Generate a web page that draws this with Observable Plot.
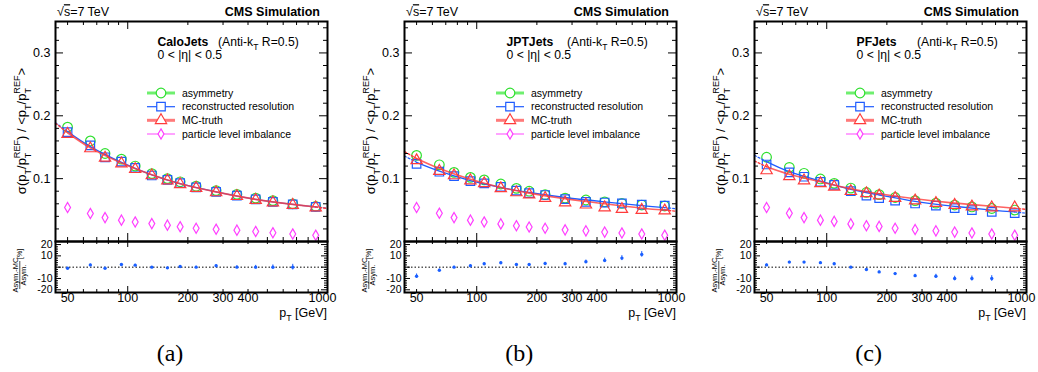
<!DOCTYPE html>
<html><head><meta charset="utf-8">
<script src="https://cdn.jsdelivr.net/npm/d3@7"></script>
<script src="https://cdn.jsdelivr.net/npm/@observablehq/plot@0.6"></script>
<style>
body{margin:0;background:#fff;}
#root{position:relative;width:1038px;height:372px;overflow:hidden;font-family:"Liberation Sans",Arial,sans-serif;}
.cap{position:absolute;font-family:"Liberation Serif","DejaVu Serif",serif;font-size:24px;transform:translate(-50%,-50%);white-space:nowrap;}
</style></head><body><div id="root"></div>
<script>
// ---------- data ----------
const pt = [50, 65, 77, 93, 109, 132, 158, 183, 220, 277, 352, 437, 533, 670, 873];
const fitX = [43.5, 50, 65, 93, 132, 183, 277, 437, 670, 873, 1000];

const panelNames = ["CaloJets", "JPTJets", "PFJets"];
const captions = ["(a)", "(b)", "(c)"];

const asymA = [0.182, 0.160, 0.140, 0.131, 0.120, 0.108, 0.100, 0.095, 0.088, 0.081, 0.075, 0.069, 0.065, 0.060, 0.056];
const recoA = [0.174, 0.153, 0.134, 0.127, 0.117, 0.105, 0.098, 0.093, 0.086, 0.079, 0.073, 0.067, 0.063, 0.059, 0.055];
const mcA   = [0.171, 0.148, 0.133, 0.124, 0.115, 0.105, 0.097, 0.091, 0.085, 0.078, 0.072, 0.066, 0.062, 0.058, 0.054];
const pliA  = [0.054, 0.0445, 0.038, 0.034, 0.031, 0.0285, 0.026, 0.0235, 0.021, 0.0195, 0.018, 0.016, 0.014, 0.012, 0.010];
const fitBlueA = [0.189, 0.175, 0.151, 0.126, 0.106, 0.092, 0.079, 0.067, 0.059, 0.055, 0.053];
const fitRedA  = [0.188, 0.173, 0.149, 0.125, 0.106, 0.092, 0.079, 0.067, 0.059, 0.055, 0.0525];
const ratioA = [-1, 2, -1, 2.4, 1.8, 0, -0.6, 0.6, 0, 1.2, 0, 0, 0, 0];
const errA   = [0.8, 0.7, 0.6, 0.7, 0.7, 0.6, 0.6, 0.7, 0.8, 1.0, 1.3, 1.6, 2.0, 2.5];

const asymB = [0.137, 0.122, 0.110, 0.102, 0.098, 0.0915, 0.0845, 0.080, 0.0745, 0.069, 0.066, 0.063, 0.0605, 0.058, 0.0565];
const recoB = [0.1235, 0.111, 0.104, 0.096, 0.0925, 0.087, 0.081, 0.077, 0.074, 0.0675, 0.063, 0.062, 0.0605, 0.0585, 0.057];
const mcB   = [0.129, 0.112, 0.105, 0.097, 0.0925, 0.0845, 0.078, 0.0745, 0.069, 0.062, 0.0585, 0.054, 0.0515, 0.050, 0.049];
const pliB  = [0.054, 0.045, 0.038, 0.034, 0.031, 0.028, 0.025, 0.023, 0.021, 0.0185, 0.017, 0.015, 0.0135, 0.012, 0.010];
const fitBlueB = [0.136, 0.126, 0.112, 0.097, 0.086, 0.078, 0.070, 0.063, 0.057, 0.054, 0.052];
const fitRedB  = [0.143, 0.132, 0.116, 0.099, 0.086, 0.077, 0.068, 0.060, 0.053, 0.050, 0.048];
const ratioB = [-8, -2.7, 0, 1.2, 3, 3.9, 2.4, 2.4, 3.3, 3, 4.8, 6, 8, 11.3];
const errB   = [2, 1, 0.8, 0.8, 0.8, 0.8, 0.8, 0.8, 1, 1.2, 1.5, 2, 2.2, 2.5];

const asymC = [0.134, 0.118, 0.1085, 0.0995, 0.0925, 0.085, 0.078, 0.0745, 0.070, 0.065, 0.061, 0.058, 0.055, 0.0525, 0.050];
const recoC = [0.1225, 0.110, 0.103, 0.095, 0.090, 0.080, 0.073, 0.069, 0.065, 0.0605, 0.057, 0.053, 0.050, 0.047, 0.045];
const mcC   = [0.113, 0.1035, 0.097, 0.0925, 0.087, 0.080, 0.0765, 0.073, 0.069, 0.065, 0.061, 0.058, 0.0555, 0.054, 0.054];
const pliC  = [0.054, 0.045, 0.038, 0.034, 0.032, 0.028, 0.025, 0.024, 0.021, 0.019, 0.017, 0.015, 0.0135, 0.012, 0.010];
const fitBlueC = [0.137, 0.127, 0.111, 0.096, 0.083, 0.074, 0.064, 0.056, 0.050, 0.047, 0.045];
const fitRedC  = [0.128, 0.119, 0.107, 0.095, 0.084, 0.076, 0.068, 0.061, 0.056, 0.053, 0.051];
const ratioC = [2, 4.5, 4.5, 4, 3, 0, -2, -4.2, -5.7, -7.5, -8, -10, -10, -10];
const errC   = [0.8, 0.7, 0.7, 0.7, 0.7, 0.7, 0.7, 0.8, 1, 1.2, 1.7, 2, 2.2, 2.5];

const legendLabels = ["asymmetry", "reconstructed resolution", "MC-truth", "particle level imbalance"];

// tick values
const xMinorTicks = [50, 60, 70, 80, 90, 200, 300, 400, 500, 600, 700, 800, 900];
const xMajorTicks = [100];
const xTickLabels = [50, 100, 200, 300, 400];
const xTickLabelsEnd = [1000];
const yMainMajor = [0.1, 0.2, 0.3];
const yMainMinor = [0.02, 0.04, 0.06, 0.08, 0.12, 0.14, 0.16, 0.18, 0.22, 0.24, 0.26, 0.28, 0.32, 0.34];
const yRatioMajor = [-20, -10, 0, 10, 20];
const yRatioLabels = [20, 10, -10, -20];
const yRatioMinor = [-18, -16, -14, -12, -8, -6, -4, -2, 2, 4, 6, 8, 12, 14, 16, 18];

// ---------- style / layout ----------
const C = {green: "#2fe02f", blue: "#1f5cff", red: "#ff3b3b", mag: "#ff3fff", ratio: "#1a5fff"};
const W = 346, FL = 55, FR = 327, innerW = FR - FL;
const mainTop = 21, mainH = 241, innerMainH = mainH - mainTop;
const ratioH = 90, ratioInner = 51;
const offsets = [0, 349.3, 698.7];
const xDomain = [43.5, 1000];
const FONT = "'Liberation Sans', Arial, sans-serif";

const panels = [
  {asym: asymA, reco: recoA, mc: mcA, pli: pliA, fb: fitBlueA, fr: fitRedA, ratio: ratioA, err: errA},
  {asym: asymB, reco: recoB, mc: mcB, pli: pliB, fb: fitBlueB, fr: fitRedB, ratio: ratioB, err: errB},
  {asym: asymC, reco: recoC, mc: mcC, pli: pliC, fb: fitBlueC, fr: fitRedC, ratio: ratioC, err: errC}
];

function frameTicks(iw, ih, xMin, xMaj, yMin, yMaj, lx, LX, ly, LY) {
  const s = {stroke: "black", strokeWidth: 1};
  return [
    Plot.tickX(xMin, {x: d => d, insetTop: ih - lx, ...s}),
    Plot.tickX(xMin, {x: d => d, insetBottom: ih - lx, ...s}),
    Plot.tickX(xMaj, {x: d => d, insetTop: ih - LX, ...s}),
    Plot.tickX(xMaj, {x: d => d, insetBottom: ih - LX, ...s}),
    Plot.tickY(yMin, {y: d => d, insetRight: iw - ly, ...s}),
    Plot.tickY(yMin, {y: d => d, insetLeft: iw - ly, ...s}),
    Plot.tickY(yMaj, {y: d => d, insetRight: iw - LY, ...s}),
    Plot.tickY(yMaj, {y: d => d, insetLeft: iw - LY, ...s})
  ];
}

function richText(svg, x, y, size, parts, opt = {}) {
  const t = d3.select(svg).append("text")
    .attr("transform", `translate(${x},${y}) rotate(${opt.rotate || 0})`)
    .attr("font-size", size).attr("font-family", FONT)
    .attr("text-anchor", opt.anchor || "start").attr("fill", "black");
  if (opt.weight) t.attr("font-weight", opt.weight);
  let cur = 0;
  for (const [s, kind = "n", dx = 0, deco] of parts) {
    const target = kind === "sub" ? size * 0.38 : kind === "sup" ? -size * 0.48 : 0;
    const fs = kind === "n" ? size : size * 0.7;
    const ts = t.append("tspan").attr("dy", target - cur).attr("dx", dx).attr("font-size", fs).text(s);
    if (deco) ts.style("text-decoration", deco);
    cur = target;
  }
  return t;
}

function mainPlot(p, idx) {
  const rows = pt.map((x, i) => ({x, asym: p.asym[i], reco: p.reco[i], mc: p.mc[i], pli: p.pli[i]}));
  const fits = fitX.map((x, i) => ({x, b: p.fb[i], r: p.fr[i]}));
  const lo = pt[0], hi = pt[pt.length - 1];
  const solid = fits.filter(d => d.x >= lo && d.x <= hi);
  const lead = fits.filter(d => d.x <= lo);
  const tail = fits.filter(d => d.x >= hi);
  const svg = Plot.plot({
    width: W, height: mainH, marginLeft: FL, marginRight: W - FR, marginTop: mainTop, marginBottom: 0,
    style: {fontFamily: FONT, fontSize: "12.5px", color: "black", background: "transparent", overflow: "visible"},
    x: {type: "log", domain: xDomain, axis: null},
    y: {domain: [0, 0.35], axis: null},
    marks: [
      Plot.dot(rows, {x: "x", y: "asym", symbol: "circle", r: 4.8, stroke: C.green, fill: "none", strokeWidth: 1.2}),
      Plot.dot(rows, {x: "x", y: "reco", symbol: "square", r: 4.8, stroke: C.blue, fill: "none", strokeWidth: 1.2}),
      Plot.line(solid, {x: "x", y: "b", stroke: C.blue, strokeWidth: 1.3, curve: "natural"}),
      Plot.line(lead, {x: "x", y: "b", stroke: C.blue, strokeWidth: 1.2, strokeDasharray: "2,2"}),
      Plot.line(tail, {x: "x", y: "b", stroke: C.blue, strokeWidth: 1.2, strokeDasharray: "2,2"}),
      Plot.line(solid, {x: "x", y: "r", stroke: C.red, strokeWidth: 1.6, strokeOpacity: 0.8, curve: "natural"}),
      Plot.line(lead, {x: "x", y: "r", stroke: C.red, strokeWidth: 1.4, strokeDasharray: "2,2"}),
      Plot.line(tail, {x: "x", y: "r", stroke: C.red, strokeWidth: 1.4, strokeDasharray: "2,2"}),
      Plot.dot(rows, {x: "x", y: "mc", symbol: "triangle", r: 4.2, stroke: C.red, fill: "none", strokeWidth: 1.2}),
      Plot.dot(rows, {x: "x", y: "pli", symbol: "diamond", r: 3.1, stroke: C.mag, fill: "none", strokeWidth: 1.2}),
      ...frameTicks(innerW, innerMainH, xMinorTicks, xMajorTicks, yMainMinor, yMainMajor, 4, 8, 4, 8),
      Plot.axisY({ticks: yMainMajor, tickSize: 0, tickPadding: 5, tickFormat: d => d.toFixed(1), fontSize: 12.5, label: null}),
      Plot.text(["CMS Simulation"], {frameAnchor: "top-right", dx: -7.5, dy: -9.5, lineAnchor: "middle", textAnchor: "end", fontWeight: "bold", fontSize: 12.5}),
      Plot.text([panelNames[idx]], {frameAnchor: "top-left", dx: 102, dy: 20.5, lineAnchor: "middle", textAnchor: "start", fontWeight: "bold", fontSize: 12.2}),
      Plot.text(["0 < |η| < 0.5"], {frameAnchor: "top-left", dx: 102, dy: 33.5, lineAnchor: "middle", textAnchor: "start", fontSize: 12.2}),
      Plot.frame({stroke: "black", strokeWidth: 2})
    ]
  });
  // rich labels
  richText(svg, FL + 2, 16.2, 12.5, [["√"], ["s", "n", 0, "overline"], ["=7 TeV"]]);
  richText(svg, FL + 163, 45.5, 12.2, [["(Anti-k"], ["T", "sub"], [" R=0.5)"]]);
  richText(svg, 26, (mainTop + mainH) / 2, 13,
    [["σ(p"], ["T", "sub"], ["/p"], ["T", "sub"], ["REF", "sup", -5.6], [") / <p"], ["T", "sub"], ["/p"], ["T", "sub"], ["REF", "sup", -5.6], [">"]],
    {rotate: -90, anchor: "middle"});
  // legend
  const g = d3.select(svg).append("g").attr("text-anchor", "start");
  const syms = [[d3.symbolCircle, Math.PI * 4.8 * 4.8, C.green, "#6fef6f", 3],
                [d3.symbolSquare, Math.PI * 4.8 * 4.8, C.blue, C.blue, 1.2],
                [d3.symbolTriangle, Math.PI * 4.2 * 4.2, C.red, "#ff7a7a", 3],
                [d3.symbolDiamond, Math.PI * 3.1 * 3.1, C.mag, "#ff66ff", 1.2]];
  const rowsY = [93, 106.7, 120.3, 134];
  legendLabels.forEach((lab, i) => {
    const [type, size, col, lcol, lw] = syms[i];
    const y = rowsY[i];
    g.append("line").attr("x1", FL + 92).attr("x2", FL + 120).attr("y1", y).attr("y2", y).attr("stroke", lcol).attr("stroke-width", lw);
    g.append("path").attr("d", d3.symbol(type, size)()).attr("transform", `translate(${FL + 106},${y})`)
      .attr("fill", "white").attr("stroke", col).attr("stroke-width", 1.2);
    g.append("text").attr("x", FL + 127).attr("y", y).attr("dy", "0.35em").attr("text-anchor", "start")
      .attr("font-size", 10.5).attr("font-family", FONT).text(lab);
  });
  return svg;
}

function ratioPlot(p) {
  const rows = p.ratio.map((v, i) => ({x: pt[i], v, e: p.err[i]}));
  const svg = Plot.plot({
    width: W, height: ratioH, marginLeft: FL, marginRight: W - FR, marginTop: 0, marginBottom: ratioH - ratioInner,
    style: {fontFamily: FONT, fontSize: "12px", color: "black", background: "transparent", overflow: "visible"},
    x: {type: "log", domain: xDomain, axis: null},
    y: {domain: [-22.4, 22.7], axis: null},
    marks: [
      Plot.ruleY([0], {stroke: "black", strokeWidth: 1, strokeDasharray: "1.5,2"}),
      Plot.ruleX(rows, {x: "x", y1: d => d.v - d.e, y2: d => d.v + d.e, stroke: C.ratio, strokeWidth: 1}),
      Plot.dot(rows, {x: "x", y: "v", r: 1.7, fill: C.ratio}),
      ...frameTicks(innerW, ratioInner, xMinorTicks, xMajorTicks, yRatioMinor, yRatioMajor, 3, 6, 3, 6),
      Plot.axisX({ticks: xTickLabels, tickSize: 0, tickPadding: 1, tickFormat: d => String(d), fontSize: 12.5, label: null}),
      Plot.axisX({ticks: xTickLabelsEnd, tickSize: 0, tickPadding: 1, tickFormat: d => String(d), fontSize: 12.5, dx: -5, label: null}),
      Plot.axisY({ticks: yRatioLabels, tickSize: 0, tickPadding: 3, tickFormat: d => String(d), fontSize: 10.5, label: null}),
      Plot.frame({stroke: "black", strokeWidth: 2})
    ]
  });
  richText(svg, FR, 75.5, 12.5, [["p"], ["T", "sub"], [" [GeV]"]], {anchor: "end"});
  // ratio y label: (Asym.-MC)/Asym. [%]
  const s = d3.select(svg);
  const cy = 34;
  s.append("text").attr("transform", `translate(18,${cy}) rotate(-90)`).attr("text-anchor", "middle")
    .attr("font-size", 7.5).attr("font-family", FONT).text("Asym.-MC");
  s.append("line").attr("x1", 19.8).attr("x2", 19.8).attr("y1", cy + 14).attr("y2", cy - 14).attr("stroke", "black").attr("stroke-width", 0.7);
  s.append("text").attr("transform", `translate(26,${cy}) rotate(-90)`).attr("text-anchor", "middle")
    .attr("font-size", 7.5).attr("font-family", FONT).text("Asym.");
  s.append("text").attr("transform", `translate(22,${cy - 16}) rotate(-90)`).attr("text-anchor", "start")
    .attr("font-size", 7).attr("font-family", FONT).text("[%]");
  return svg;
}

const root = document.getElementById("root");
panels.forEach((p, i) => {
  const m = mainPlot(p, i);
  Object.assign(m.style, {position: "absolute", left: offsets[i] + "px", top: "0px", maxWidth: "none"});
  root.appendChild(m);
  const r = ratioPlot(p);
  Object.assign(r.style, {position: "absolute", left: offsets[i] + "px", top: mainH + "px", maxWidth: "none"});
  root.appendChild(r);
  const cap = document.createElement("div");
  cap.className = "cap";
  cap.textContent = captions[i];
  cap.style.left = (offsets[i] + 170) + "px";
  cap.style.top = "353px";
  root.appendChild(cap);
});
</script></body></html>
